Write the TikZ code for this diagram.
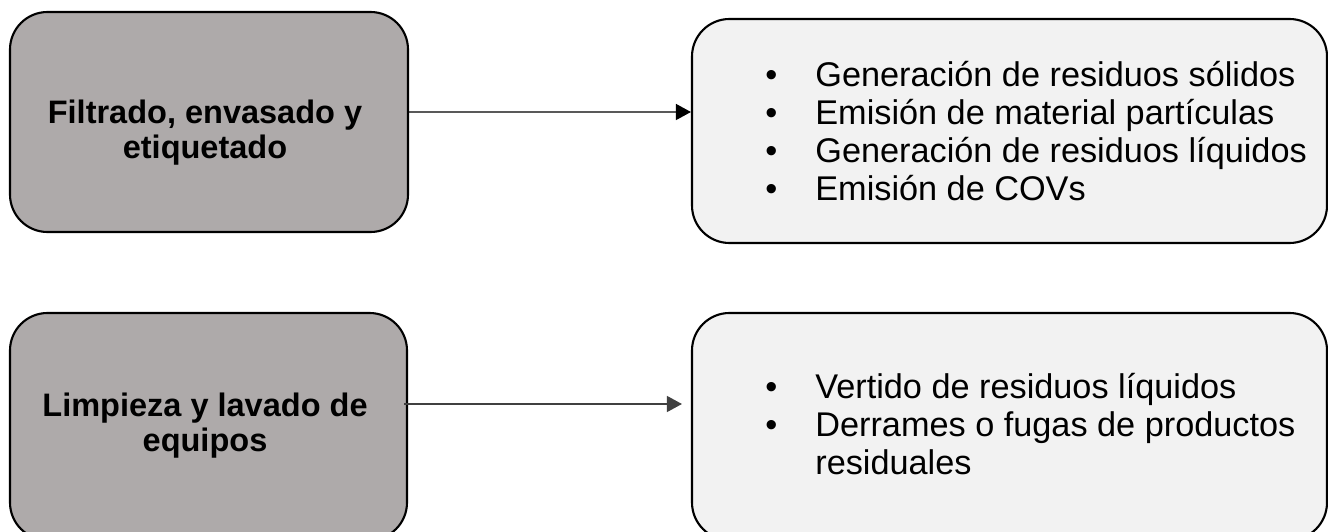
\documentclass[tikz,border=0pt]{standalone}
\usepackage{fontspec}
\setmainfont{Liberation Sans}
\usetikzlibrary{arrows.meta}
\definecolor{procgray}{HTML}{AEAAAA}
\definecolor{outgray}{HTML}{F2F2F2}
\definecolor{flowdark}{HTML}{404040}
\tikzset{
  procbox/.style={shape=rectangle, draw, line width=1.2pt, rounded corners=0.75cm, fill=procgray},
  proctext/.style={anchor=center, align=center, inner sep=0pt, font=\fontsize{18.5}{20}\selectfont\bfseries},
  outbox/.style={shape=rectangle, draw, line width=1.2pt, rounded corners=0.75cm, fill=outgray},
  outtext/.style={anchor=base west, inner sep=0pt, font=\fontsize{19.5}{21.6}\selectfont},
  flow/.style={-{Triangle[length=0.3cm, width=0.32cm]}, line width=0.8pt},
}

\begin{document}
\begin{tikzpicture}
			\useasboundingbox (0, 0) rectangle (26.56, 10.62);
			\clip (0, 0) rectangle (26.56, 10.62);
			% Stages and their outputs:
			\node[procbox, minimum width=7.96cm, minimum height=4.4cm] (filtrado) at (4.18, 8.18){};
			\node[proctext] (filtradotxt) at (4.1, 7.97){Filtrado, envasado y\\etiquetado};
			\node[outbox, minimum width=12.7cm, minimum height=4.48cm] (emisiones) at (20.19, 8.0){};
			\node[outtext] (emisionestxt) at (15.3, 8.88){\begin{tabular}[t]{@{}p{1.0cm}@{}l@{}}
				\textbullet & Generación de residuos sólidos\\
				\textbullet & Emisión de material partículas\\
				\textbullet & Generación de residuos líquidos\\
				\textbullet & Emisión de COVs
			\end{tabular}};
			\node[procbox, minimum width=7.94cm, minimum height=4.54cm] (limpieza) at (4.17, 2.09){};
			\node[proctext] (limpiezatxt) at (4.1, 2.11){Limpieza y lavado de\\equipos};
			\node[outbox, minimum width=12.7cm, minimum height=4.54cm] (vertidos) at (20.19, 2.09){};
			\node[outtext] (vertidostxt) at (15.3, 2.64){\begin{tabular}[t]{@{}p{1.0cm}@{}l@{}}
				\textbullet & Vertido de residuos líquidos\\
				\textbullet & Derrames o fugas de productos\\
				 & residuales
			\end{tabular}};
			% Arrows:
			\draw[flow] ([yshift=0.2cm]filtrado.east) -- ([yshift=0.38cm]emisiones.west);
			\draw[flow, flowdark] ([xshift=-0.08cm, yshift=0.45cm]limpieza.east) -- ([xshift=-0.18cm, yshift=0.45cm]vertidos.west);
		\end{tikzpicture}
\end{document}
